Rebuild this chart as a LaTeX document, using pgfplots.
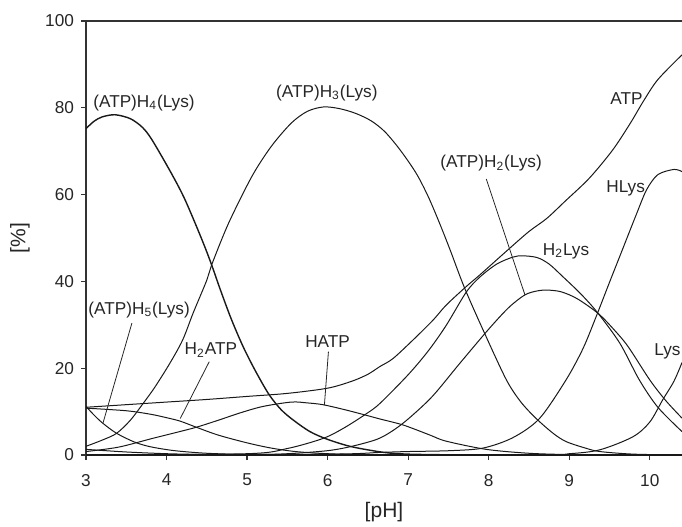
\documentclass[border=0pt]{standalone}
\usepackage{fontspec}
\setmainfont{Liberation Sans}
\usepackage{pgfplots}
\pgfplotsset{compat=1.18}
\begin{document}
\begin{tikzpicture}[c/.style={black!90, line width=0.5pt, smooth, mark=none}]
\begin{axis}[
  name=ax,
  scale only axis,
  width=298pt, height=217pt,
  xmin=3, xmax=10.4, ymin=0, ymax=100,
  axis lines=left,
  axis line style={-, color=black!80, line width=0.7pt},
  xtick={3,4,5,6,7,8,9,10}, ytick={0,20,40,60,80,100},
  tick align=outside, major tick length=2.5pt,
  tick style={color=black!80, line width=0.6pt},
  ticklabel style={font=\fontsize{8.6}{10}\selectfont, text=black!85},
  xticklabel style={yshift=-3.5pt},
  /pgf/number format/assume math mode=true,
  xlabel={[pH]}, ylabel={[\%]},
  every axis y label/.style={at={(axis description cs:-0.1107,0.5)}, rotate=90, anchor=center, font=\fontsize{10.5}{12}\selectfont, text=black!85},
  every axis x label/.style={at={(axis description cs:0.5,0)}, anchor=center, yshift=-28.5pt, font=\fontsize{10.5}{12}\selectfont, text=black!85},
  clip mode=individual,
]
% (ATP)H5(Lys)
\addplot[c] coordinates {(3.0,11.2) (3.1,9.2) (3.21,7.3) (3.38,5.0) (3.6,3.0) (3.8,1.9) (4.1,1.0) (4.5,0.4) (5.0,0.1) (5.5,0.02) (6,0) (10.4,0)};
% (ATP)H4(Lys)
\addplot[c, line width=0.7pt] coordinates {(3.0,75.2) (3.1,76.9) (3.2,77.9) (3.36,78.4) (3.55,77.5) (3.7,75.5) (3.82,72.6) (4.06,64.9) (4.23,58.8) (4.44,49.6) (4.56,43.8) (4.66,38.5) (4.8,31.5) (4.95,25) (5.1,19.5) (5.27,14) (5.42,10.5) (5.57,8.1) (5.78,5.4) (6.0,3.6) (6.3,1.9) (6.7,0.6) (7.0,0.2) (7.5,0.05) (8,0) (10.4,0)};
% (ATP)H3(Lys)
\addplot[c] coordinates {(3.0,2.0) (3.21,3.5) (3.38,5.0) (3.55,8.0) (3.71,11.9) (3.85,15.5) (4.04,21.1) (4.2,26.5) (4.33,32.7) (4.5,40.3) (4.56,43.8) (4.77,53.4) (5.06,64.2) (5.3,71.1) (5.55,76.5) (5.75,79.2) (5.95,80.2) (6.15,79.8) (6.35,78.7) (6.54,77.0) (6.71,74.5) (6.9,70.3) (7.1,64.9) (7.25,59.5) (7.39,53.4) (7.52,47.3) (7.7,38.5) (7.95,28.0) (8.22,17.3) (8.4,12.2) (8.59,8.4) (8.8,5.0) (8.96,3.1) (9.2,1.6) (9.38,0.8) (9.8,0.2) (10.4,0)};
% (ATP)H2(Lys)
\addplot[c] coordinates {(3,0) (5.0,0.1) (5.5,0.3) (6.0,1.0) (6.3,2.0) (6.61,3.6) (6.8,5.5) (7.0,8.3) (7.3,13.5) (7.64,21.1) (8.0,29.0) (8.25,34.0) (8.45,36.9) (8.6,37.8) (8.73,38.0) (8.9,37.6) (9.1,36.0) (9.36,32.6) (9.55,29.0) (9.73,25.0) (10.0,17.3) (10.2,12.5) (10.4,8.5)};
% H2Lys
\addplot[c] coordinates {(3,0) (5.0,0.3) (5.5,1.5) (5.94,3.8) (6.2,6.2) (6.48,9.5) (6.65,11.9) (7.0,18.5) (7.25,24) (7.47,29.8) (7.72,37.5) (7.89,41.0) (8.1,44.0) (8.3,45.6) (8.42,45.9) (8.6,45.5) (8.75,44.0) (8.92,41.1) (9.15,37.0) (9.36,32.6) (9.63,25.7) (9.87,17.3) (10.1,11.0) (10.4,5.4)};
% HLys
\addplot[c] coordinates {(3,0) (6.0,0.2) (6.65,0.6) (7.0,0.8) (7.52,1.0) (7.93,1.6) (8.3,4.0) (8.63,8.4) (8.96,17.3) (9.17,24.5) (9.33,31.7) (9.5,39.8) (9.63,45.9) (9.83,55.3) (9.96,61.1) (10.1,64.6) (10.3,65.8) (10.4,65.3)};
% Lys
\addplot[c] coordinates {(3,0) (8.5,0) (9.0,0.3) (9.38,1.2) (9.79,4.2) (10.0,7.6) (10.16,12.7) (10.3,17.0) (10.4,21.3)};
% ATP
\addplot[c] coordinates {(3.0,11.0) (3.5,11.6) (4.0,12.2) (4.5,12.8) (5.0,13.5) (5.5,14.2) (6.0,15.4) (6.3,17.0) (6.5,18.6) (6.65,20.4) (6.81,22.2) (7.06,26.5) (7.31,31.1) (7.47,34.5) (7.72,38.8) (7.89,41.5) (8.24,47.3) (8.5,51.5) (8.72,54.5) (8.95,58.5) (9.25,63.8) (9.54,70.3) (9.76,76.5) (9.92,81.5) (10.1,86.5) (10.4,92.2)};
% H2ATP
\addplot[c] coordinates {(3.0,10.8) (3.5,10.2) (3.8,9.4) (4.0,8.6) (4.17,7.8) (4.37,6.4) (4.64,4.6) (5.0,2.8) (5.3,1.6) (5.6,0.8) (6.0,0.3) (6.5,0.05) (7,0) (10.4,0)};
% HATP
\addplot[c] coordinates {(3.0,0.8) (3.4,1.8) (3.82,3.8) (4.1,5.1) (4.37,6.4) (4.64,8.0) (4.93,9.8) (5.2,11.2) (5.55,12.2) (5.75,12.0) (5.94,11.6) (6.2,10.5) (6.45,9.3) (6.65,8.3) (6.94,6.9) (7.27,4.6) (7.47,3.2) (7.97,1.3) (8.5,0.4) (9.0,0.1) (9.5,0) (10.4,0)};
% H3Lys (unlabelled)
\addplot[c] coordinates {(3,1.3) (3.5,0.7) (4,0.3) (4.5,0.1) (5,0) (10.4,0)};

% top border
\draw[color=black!80, line width=0.7pt] (rel axis cs:0,1) -- (rel axis cs:1,1);

% labels
\begin{scope}[every node/.style={font=\fontsize{8.6}{10}\selectfont, text=black!85, inner sep=0pt}]
\node at (axis cs:3.72,81.1) {(ATP)H\textsubscript{4}(Lys)};
\node at (axis cs:5.99,83.5) {(ATP)H\textsubscript{3}(Lys)};
\node at (axis cs:9.71,82.2) {ATP};
\node at (axis cs:8.03,67.2) {(ATP)H\textsubscript{2}(Lys)};
\node at (axis cs:9.70,61.5) {HLys};
\node at (axis cs:8.96,46.9) {H\textsubscript{2}Lys};
\node at (axis cs:10.22,23.8) {Lys};
\node at (axis cs:3.66,33.4) {(ATP)H\textsubscript{5}(Lys)};
\node at (axis cs:4.55,24.2) {H\textsubscript{2}ATP};
\node at (axis cs:6.0,26.1) {HATP};
\end{scope}
\draw[line width=0.4pt, black!85] (axis cs:3.57,30.4) -- (axis cs:3.21,7.3);
\draw[line width=0.4pt, black!85] (axis cs:4.53,21.5) -- (axis cs:4.17,8.4);
\draw[line width=0.4pt, black!85] (axis cs:6.01,23.8) -- (axis cs:5.96,11.5);
\draw[line width=0.4pt, black!85] (axis cs:7.97,63.6) -- (axis cs:8.45,36.9);
\coordinate (sw) at (rel axis cs:0,0);
\coordinate (ne) at (rel axis cs:1,1);
\end{axis}
\pgfresetboundingbox
\path[use as bounding box] ([xshift=-43pt,yshift=-35.5pt]sw) rectangle ([yshift=10.5pt]ne);
\end{tikzpicture}
\end{document}
